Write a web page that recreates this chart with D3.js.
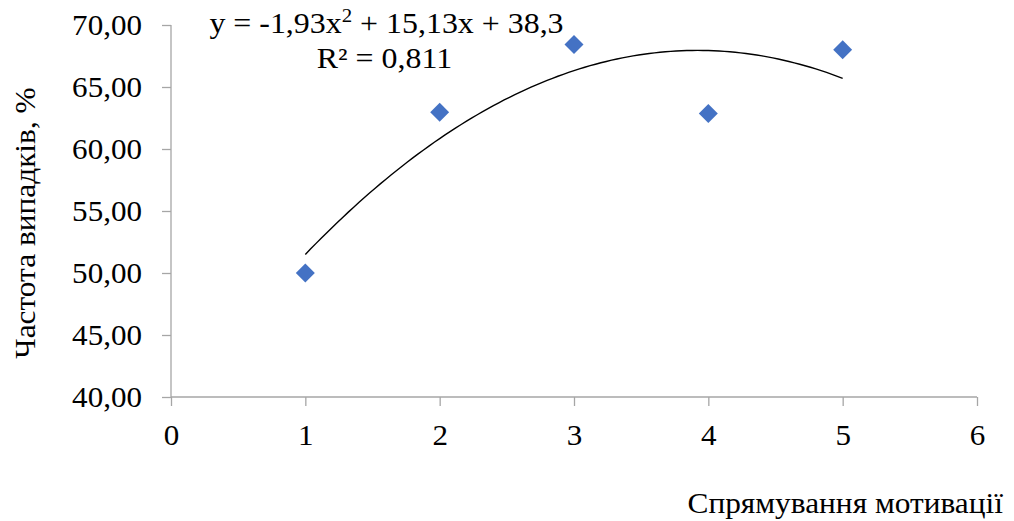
<!DOCTYPE html>
<html>
<head>
<meta charset="utf-8">
<script src="https://cdn.jsdelivr.net/npm/d3@7"></script>
<style>
  html, body { margin: 0; padding: 0; background: #fff; }
  svg { display: block; }
  text { font-family: "Liberation Serif", "Times New Roman", serif; fill: #000; }
</style>
</head>
<body>
<svg id="chart" width="1014" height="521"></svg>
<script>
// Motivation direction vs. share of cases
const xValues = [1, 2, 3, 4, 5];
const yValues = [50.00, 62.96, 68.42, 62.86, 68.00];
const xTicks = [0, 1, 2, 3, 4, 5, 6];
const yTicks = [40, 45, 50, 55, 60, 65, 70];
// Polynomial (order 2) trendline coefficients: y = a x^2 + b x + c
const trendCoef = [-1.93, 15.13, 38.3];
const trendR2 = "0,811";
const xTitle = "Спрямування мотивації";
const yTitle = "Частота випадків, %";

(function () {
const svg = d3.select("#chart");
const plotLeft = 171, plotRight = 977, plotTop = 25, plotBottom = 397;
const serif = "'Liberation Serif', 'Times New Roman', serif";
const baseSize = 28.5;

// Widen glyphs slightly (text in this chart is set a little wide)
function widen(sel, k) {
  sel.each(function () {
    const w = this.getComputedTextLength();
    this.setAttribute("textLength", (w * k).toFixed(2));
    this.setAttribute("lengthAdjust", "spacingAndGlyphs");
  });
}

const x = d3.scaleLinear().domain([0, 6]).range([plotLeft, plotRight]);
const y = d3.scaleLinear().domain([40, 70]).range([plotBottom, plotTop]);

const axisColor = "#a6a6a6";
const fmt = v => d3.format(".2f")(v).replace(".", ",");

// Y axis
const yAxis = svg.append("g")
  .attr("transform", `translate(${plotLeft},0)`)
  .call(d3.axisLeft(y).tickValues(yTicks).tickFormat(fmt).tickSize(9).tickPadding(20));
// X axis
const xAxis = svg.append("g")
  .attr("transform", `translate(0,${plotBottom})`)
  .call(d3.axisBottom(x).tickValues(xTicks).tickFormat(d3.format("d")).tickSize(9).tickPadding(19));

[yAxis, xAxis].forEach(g => {
  g.attr("font-family", serif);
  g.select(".domain").attr("stroke", axisColor).attr("stroke-width", 1.3);
  g.selectAll(".tick line").attr("stroke", axisColor).attr("stroke-width", 1.3);
  g.selectAll(".tick text")
    .style("font-family", serif)
    .style("font-size", baseSize + "px")
    .attr("fill", "#000")
    .call(widen, 1.09);
});
xAxis.select(".domain").attr("d", `M${plotLeft},0H${plotRight}`);
yAxis.select(".domain").attr("d", `M0,${plotTop}V${plotBottom}`);

// Trendline across the data range
const poly = t => trendCoef[0] * t * t + trendCoef[1] * t + trendCoef[2];
const trendPts = d3.range(0, 101).map(i => {
  const t = xValues[0] + (xValues[xValues.length - 1] - xValues[0]) * i / 100;
  return [t, poly(t)];
});
svg.append("path")
  .datum(trendPts)
  .attr("fill", "none")
  .attr("stroke", "#000")
  .attr("stroke-width", 1.4)
  .attr("d", d3.line().x(d => x(d[0])).y(d => y(d[1])));

// Markers: diamonds
svg.append("g").selectAll("path")
  .data(xValues.map((v, i) => [v, yValues[i]]))
  .join("path")
  .attr("d", d3.symbol().type(d3.symbolSquare).size(180))
  .attr("transform", d => `translate(${x(d[0])},${y(d[1])}) rotate(45)`)
  .attr("fill", "#4472c4");

// Trendline equation label
const cfmt = v => String(Math.abs(v)).replace(".", ",");
const eq = svg.append("text")
  .attr("x", 386.5).attr("y", 33)
  .attr("text-anchor", "middle")
  .style("font-size", "29px");
eq.append("tspan").text(`y = ${trendCoef[0] < 0 ? "-" : ""}${cfmt(trendCoef[0])}x`);
eq.append("tspan").attr("dy", -11).style("font-size", "19px").text("2");
eq.append("tspan").attr("dy", 11).text(` + ${cfmt(trendCoef[1])}x + ${cfmt(trendCoef[2])}`);
eq.call(widen, 1.1);
svg.append("text")
  .attr("x", 384.5).attr("y", 68)
  .attr("text-anchor", "middle")
  .style("font-size", "29px")
  .text(`R² = ${trendR2}`)
  .call(widen, 1.1);

// Axis titles
svg.append("text")
  .attr("x", 1003).attr("y", 513)
  .attr("text-anchor", "end")
  .style("font-size", baseSize + "px")
  .text(xTitle)
  .call(widen, 1.1);
svg.append("text")
  .attr("transform", `translate(35,223) rotate(-90)`)
  .attr("text-anchor", "middle")
  .style("font-size", baseSize + "px")
  .text(yTitle)
  .call(widen, 1.1);
})();
</script>
</body>
</html>
